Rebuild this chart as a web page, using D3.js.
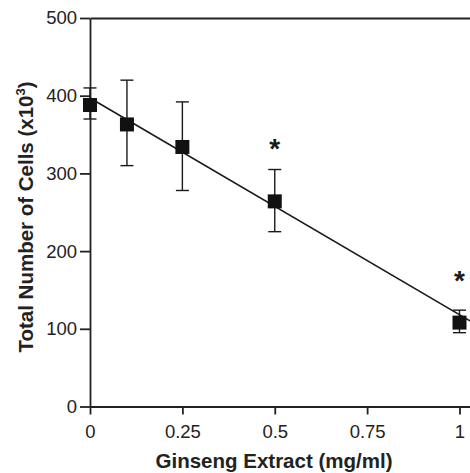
<!DOCTYPE html>
<html>
<head>
<meta charset="utf-8">
<script src="https://cdn.jsdelivr.net/npm/d3@7"></script>
<style>
  body { margin: 0; background: #fff; }
  svg { display: block; font-family: "Liberation Sans", Arial, sans-serif; }
  .axis path, .axis line { stroke: #222; stroke-width: 1.8px; }
  .axis text { fill: #222; font-size: 18.5px; }
  .title { fill: #222; font-size: 20.5px; font-weight: bold; }
</style>
</head>
<body>
<div class="chart"></div>
<script>
// dose (mg/ml), mean cells (x10^3), error bar ends
var doses   = [0, 0.1, 0.25, 0.5, 1];
var means   = [388, 363, 334, 264, 108];
var errHigh = [410, 420, 392, 305, 124];
var errLow  = [370, 310, 278, 225, 95];
// significance markers
var starDoses  = [0.5, 1];
var starValues = [341, 170];
// fitted line end points
var fitX = [0, 1.04];
var fitY = [397, 107];

var xTicks = [0, 0.25, 0.5, 0.75, 1];
var xTickLabels = ["0", "0.25", "0.5", "0.75", "1"];
var yTicks = [0, 100, 200, 300, 400, 500];

var width = 470, height = 473;

var x = d3.scaleLinear().domain([0, 1.05]).range([90, 90 + 369.5 * 1.05]);
var y = d3.scaleLinear().domain([0, 500]).range([406.5, 18]);

var svg = d3.select(".chart")
    .append("svg")
    .attr("width", width)
    .attr("height", height);

var xAxis = d3.axisBottom(x)
    .tickValues(xTicks)
    .tickFormat(function(d, i) { return xTickLabels[i]; })
    .tickSizeInner(8).tickSizeOuter(0).tickPadding(10);

var yAxis = d3.axisLeft(y)
    .tickValues(yTicks)
    .tickSizeInner(10).tickSizeOuter(0).tickPadding(3);

var topLine = d3.axisTop(x).tickValues([]).tickSizeOuter(0);

svg.append("g")
    .attr("class", "x axis")
    .attr("transform", "translate(0," + y(0) + ")")
    .call(xAxis);

svg.append("g")
    .attr("class", "y axis")
    .attr("transform", "translate(" + x(0) + ",0)")
    .call(yAxis);

svg.append("g")
    .attr("class", "axis")
    .attr("transform", "translate(0," + y(500) + ")")
    .call(topLine);

// fitted line
var fit = d3.line()
    .x(function(d) { return x(d[0]); })
    .y(function(d) { return y(d[1]); });
svg.append("path")
    .attr("d", fit(d3.zip(fitX, fitY)))
    .attr("fill", "none")
    .attr("stroke", "#1a1a1a")
    .attr("stroke-width", 1.6);

var pts = doses.map(function(d, i) {
    return {dose: d, mean: means[i], hi: errHigh[i], lo: errLow[i]};
});

var cap = 6.5;
var eb = svg.append("g").attr("stroke", "#1a1a1a").attr("stroke-width", 1.4);
eb.selectAll(".v").data(pts).enter().append("line")
    .attr("x1", function(d) { return x(d.dose); })
    .attr("x2", function(d) { return x(d.dose); })
    .attr("y1", function(d) { return y(d.hi); })
    .attr("y2", function(d) { return y(d.lo); });
eb.selectAll(".t").data(pts).enter().append("line")
    .attr("x1", function(d) { return x(d.dose) - cap; })
    .attr("x2", function(d) { return x(d.dose) + cap; })
    .attr("y1", function(d) { return y(d.hi); })
    .attr("y2", function(d) { return y(d.hi); });
eb.selectAll(".b").data(pts).enter().append("line")
    .attr("x1", function(d) { return x(d.dose) - cap; })
    .attr("x2", function(d) { return x(d.dose) + cap; })
    .attr("y1", function(d) { return y(d.lo); })
    .attr("y2", function(d) { return y(d.lo); });

var sq = 14;
svg.selectAll(".pt").data(pts).enter().append("rect")
    .attr("x", function(d) { return x(d.dose) - sq / 2; })
    .attr("y", function(d) { return y(d.mean) - sq / 2; })
    .attr("width", sq).attr("height", sq)
    .attr("fill", "#111");

// asterisks
svg.selectAll(".star").data(starDoses).enter().append("text")
    .attr("x", function(d) { return x(d); })
    .attr("y", function(d, i) { return y(starValues[i]) + 16; })
    .attr("text-anchor", "middle")
    .style("font-size", "28px")
    .style("font-weight", "bold")
    .attr("fill", "#1a1a1a")
    .text("*");

// axis titles
svg.append("text")
    .attr("class", "title")
    .attr("x", 274)
    .attr("y", 467.5)
    .attr("text-anchor", "middle")
    .text("Ginseng Extract (mg/ml)");

var yt = svg.append("text")
    .attr("class", "title")
    .attr("transform", "translate(33,217) rotate(-90)")
    .attr("text-anchor", "middle");
yt.append("tspan").text("Total Number of Cells (x10");
yt.append("tspan").attr("dy", -8).style("font-size", "13px").text("3");
yt.append("tspan").attr("dy", 8).text(")");
</script>
</body>
</html>
